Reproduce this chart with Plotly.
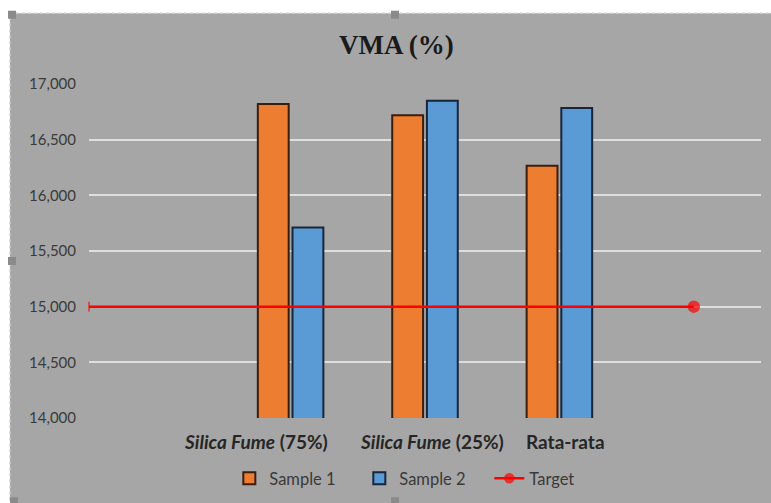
import plotly.graph_objects as go

# Chart data
categories = ["", "Silica Fume (75%)", "Silica Fume (25%)", "Rata-rata", ""]
label_html = ["", "<i>Silica Fume</i> (75%)", "<i>Silica Fume</i> (25%)", "Rata-rata", ""]
sample1 = [None, 16820, 16720, 16265, None]
sample2 = [None, 15710, 16850, 16785, None]
target_value = 15000
y_ticks = [14000, 14500, 15000, 15500, 16000, 16500, 17000]

x_pos = list(range(len(categories)))

BG = "#a6a6a6"
GRID = "#dedede"
TXT = "#3a3a3a"
FONT = "Lato"

fig = go.Figure()

fig.add_trace(go.Bar(
    x=x_pos, y=sample1, name="Sample 1",
    marker=dict(color="#ed7d31", line=dict(color="#3b1d0c", width=2)),
))
fig.add_trace(go.Bar(
    x=x_pos, y=sample2, name="Sample 2",
    marker=dict(color="#5b9bd5", line=dict(color="#17263a", width=2)),
))

# Target line: from the last category back to the left edge of the plot
target_x = [x_pos[-1], -0.5]
fig.add_trace(go.Scatter(
    x=target_x, y=[target_value] * len(target_x), name="Target",
    mode="lines+markers",
    line=dict(color="#ff0000", width=2.5),
    marker=dict(color="#ff0000", size=[11, 7], symbol=["circle", "line-ns"],
                line=dict(color="#ff0000", width=1.5)),
    cliponaxis=False,
))

# Category labels below the axis
label_shift = [0, -35, 7, 6, 0]
annotations = []
for i, txt in enumerate(label_html):
    if not txt:
        continue
    annotations.append(dict(
        x=x_pos[i], y=-0.07, xref="x", yref="paper",
        text=f"<b>{txt}</b>", showarrow=False, xshift=label_shift[i],
        yanchor="middle", font=dict(family=FONT, size=19, color="#262626"),
    ))

# Chart-area frame: white strip top/left with a dotted edge and grip handles
shapes = [
    dict(type="rect", xref="paper", yref="paper", x0=-0.2, x1=1.1, y0=1.212, y1=1.3,
         fillcolor="white", line=dict(width=0), layer="below"),
    dict(type="rect", xref="paper", yref="paper", x0=-0.2, x1=-0.1176, y0=-0.3, y1=1.3,
         fillcolor="white", line=dict(width=0), layer="below"),
    dict(type="line", xref="paper", yref="paper", x0=-0.1176, x1=1.1, y0=1.212, y1=1.212,
         line=dict(color="#cfcfcf", width=1.5, dash="dot"), layer="below"),
    dict(type="line", xref="paper", yref="paper", x0=-0.1176, x1=-0.1176, y0=-0.3, y1=1.212,
         line=dict(color="#cfcfcf", width=1.5, dash="dot"), layer="below"),
]
for hx, hy in [(12, 14), (395, 14), (12, 261), (14, 502), (395, 502)]:
    px = (hx - 89) / 672
    py = (418.5 - hy) / 335
    shapes.append(dict(type="rect", xref="paper", yref="paper",
                       x0=px - 4 / 672, x1=px + 4 / 672, y0=py - 4 / 335, y1=py + 4 / 335,
                       fillcolor="#8a8a8a", line=dict(width=0)))

fig.update_layout(
    width=771, height=503,
    margin=dict(l=89, r=10, t=84, b=85, autoexpand=False),
    paper_bgcolor=BG, plot_bgcolor=BG,
    barmode="group", bargap=0.484, bargroupgap=0.11,
    title=dict(text="<b>VMA (%)</b>", x=0.514, xref="container", y=0.912,
               yref="container", xanchor="center", yanchor="middle",
               font=dict(family="Liberation Serif", size=27, color="#1a1a1a")),
    font=dict(family=FONT, color=TXT),
    xaxis=dict(range=[-0.5, 4.5], showticklabels=False, showgrid=False,
               zeroline=False, showline=False, ticks=""),
    yaxis=dict(range=[14000, 17000], tickvals=y_ticks, tickformat=",d",
               showgrid=True, gridcolor=GRID, gridwidth=2, zeroline=False,
               showline=False, ticks="", ticklabelstandoff=12,
               tickfont=dict(family=FONT, size=15, color=TXT)),
    legend=dict(orientation="h", x=0.499, xanchor="center", y=-0.181,
                yanchor="middle", bgcolor="rgba(0,0,0,0)",
                font=dict(family=FONT, size=16.5, color=TXT), traceorder="normal",
                itemwidth=30, entrywidth=85, entrywidthmode="pixels"),
    annotations=annotations,
    shapes=shapes,
    showlegend=True,
)

fig.write_html("out.html")
